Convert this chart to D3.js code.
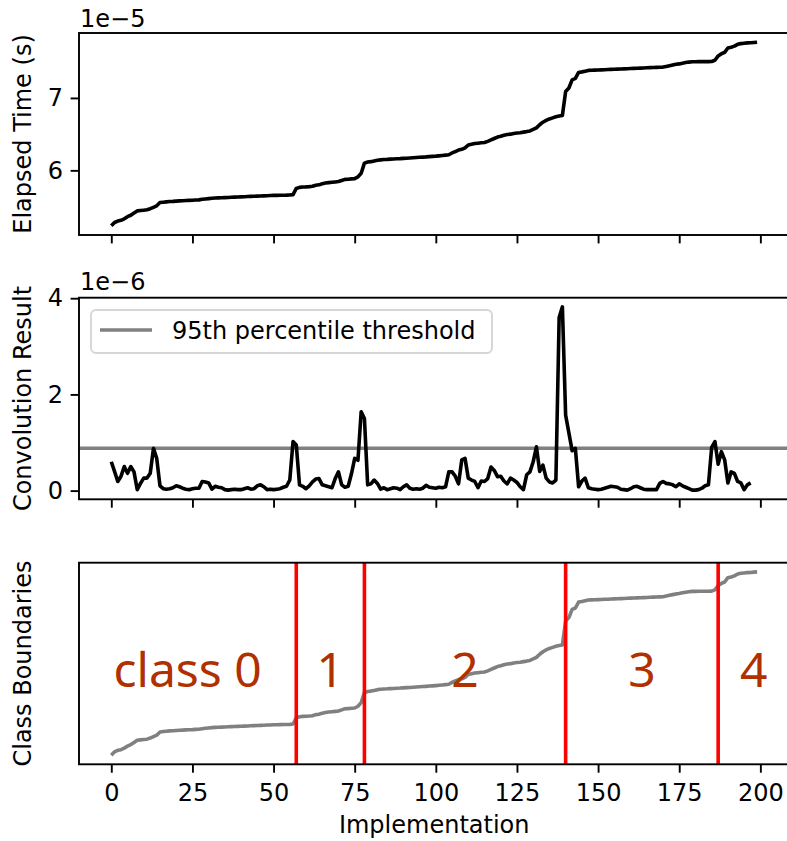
<!DOCTYPE html>
<html>
<head>
<meta charset="utf-8">
<script src="https://cdn.jsdelivr.net/npm/d3@7"></script>
<style>
  body { margin: 0; background: #fff; }
  svg { display: block; font-family: "DejaVu Sans", sans-serif; }
</style>
</head>
<body>
<div id="chart"></div>
<script>

// elapsed time per implementation, sorted (units of 1e-5 s)
const elapsed = [
  5.234, 5.28, 5.30, 5.31, 5.33, 5.36, 5.38, 5.41, 5.44, 5.445,
  5.45, 5.455, 5.47, 5.49, 5.51, 5.555, 5.56, 5.565, 5.57, 5.572,
  5.575, 5.578, 5.58, 5.583, 5.585, 5.587, 5.59, 5.592, 5.60, 5.605,
  5.61, 5.615, 5.618, 5.62, 5.622, 5.624, 5.626, 5.628, 5.63, 5.632,
  5.634, 5.636, 5.638, 5.64, 5.642, 5.644, 5.646, 5.648, 5.65, 5.652,
  5.654, 5.655, 5.656, 5.657, 5.658, 5.66, 5.665, 5.75, 5.765, 5.77,
  5.772, 5.775, 5.78, 5.795, 5.80, 5.815, 5.825, 5.83, 5.835, 5.84,
  5.845, 5.86, 5.875, 5.878, 5.882, 5.886, 5.91, 5.96, 6.10, 6.115,
  6.12, 6.13, 6.14, 6.145, 6.15, 6.152, 6.155, 6.157, 6.16, 6.162,
  6.165, 6.168, 6.171, 6.174, 6.177, 6.18, 6.183, 6.186, 6.19, 6.193,
  6.196, 6.20, 6.205, 6.21, 6.215, 6.24, 6.26, 6.28, 6.29, 6.31,
  6.35, 6.36, 6.37, 6.375, 6.38, 6.385, 6.40, 6.42, 6.44, 6.46,
  6.47, 6.485, 6.495, 6.50, 6.51, 6.515, 6.52, 6.528, 6.535, 6.545,
  6.565, 6.587, 6.63, 6.665, 6.69, 6.71, 6.725, 6.74, 6.75, 6.757,
  7.09, 7.137, 7.25, 7.27, 7.352, 7.36, 7.37, 7.38, 7.382, 7.384,
  7.386, 7.388, 7.39, 7.392, 7.394, 7.396, 7.398, 7.40, 7.402, 7.404,
  7.406, 7.408, 7.41, 7.412, 7.414, 7.416, 7.418, 7.42, 7.422, 7.424,
  7.426, 7.435, 7.445, 7.455, 7.465, 7.47, 7.48, 7.488, 7.495, 7.50,
  7.50, 7.501, 7.501, 7.502, 7.502, 7.503, 7.52, 7.58, 7.61, 7.63,
  7.69, 7.70, 7.715, 7.74, 7.75, 7.755, 7.76, 7.762, 7.766, 7.77
];

// convolution result (units of 1e-6)
const convolution = [
  0.60, 0.40, 0.19, 0.30, 0.50, 0.36, 0.50, 0.39, 0.02, 0.15,
  0.26, 0.26, 0.36, 0.88, 0.67, 0.10, 0.04, 0.03, 0.04, 0.06,
  0.10, 0.08, 0.05, 0.03, 0.02, 0.04, 0.05, 0.05, 0.19, 0.18,
  0.16, 0.03, 0.09, 0.07, 0.06, 0.02, 0.01, 0.02, 0.03, 0.02,
  0.02, 0.04, 0.06, 0.03, 0.04, 0.10, 0.12, 0.08, 0.02, 0.03,
  0.02, 0.03, 0.04, 0.07, 0.09, 0.22, 1.02, 0.95, 0.12, 0.09,
  0.04, 0.10, 0.18, 0.24, 0.25, 0.12, 0.10, 0.08, 0.06, 0.25,
  0.39, 0.12, 0.07, 0.09, 0.35, 0.67, 0.63, 1.64, 1.50, 0.12,
  0.14, 0.22, 0.15, 0.03, 0.06, 0.02, 0.04, 0.06, 0.05, 0.02,
  0.08, 0.12, 0.05, 0.03, 0.04, 0.03, 0.05, 0.11, 0.07, 0.06,
  0.05, 0.07, 0.06, 0.08, 0.39, 0.39, 0.30, 0.14, 0.64, 0.67,
  0.26, 0.22, 0.19, 0.06, 0.20, 0.19, 0.25, 0.49, 0.42, 0.29,
  0.30, 0.20, 0.14, 0.26, 0.22, 0.17, 0.08, 0.02, 0.33, 0.39,
  0.60, 0.91, 0.40, 0.53, 0.26, 0.18, 0.16, 0.22, 3.60, 3.82,
  1.57, 1.20, 0.83, 0.88, 0.08, 0.20, 0.26, 0.06, 0.04, 0.03,
  0.02, 0.03, 0.05, 0.07, 0.09, 0.08, 0.07, 0.03, 0.02, 0.01,
  0.04, 0.08, 0.09, 0.06, 0.03, 0.02, 0.02, 0.02, 0.02, 0.15,
  0.19, 0.15, 0.14, 0.12, 0.08, 0.14, 0.10, 0.07, 0.04, 0.01,
  0.01, 0.02, 0.05, 0.10, 0.12, 0.90, 1.02, 0.55, 0.81, 0.64,
  0.16, 0.39, 0.36, 0.19, 0.16, 0.02, 0.12, 0.16
];

const threshold = 0.88;
const boundaries = [57, 78, 140, 187];
const classLabels = ["class 0", "1", "2", "3", "4"];
const xTicks = [0, 25, 50, 75, 100, 125, 150, 175, 200];
const elapsedTicks = [6, 7];
const convTicks = [0, 2, 4];

const width = 787, height = 841;
const axLeft = 79, axRight = 789.4;
const panels = [
  {top: 33, bottom: 235},
  {top: 297.7, bottom: 499.3},
  {top: 562.7, bottom: 764.3}
];
const lw = 3.6, spineW = 1.9, tickLen = 8.4, fs = 24;

// matplotlib style 5% margins
function padded(ext) {
  const m = (ext[1] - ext[0]) * 0.05;
  return [ext[0] - m, ext[1] + m];
}

const svg = d3.select("#chart")
  .append("svg")
  .attr("width", width)
  .attr("height", height);

const n = elapsed.length;
const x = d3.scaleLinear()
  .domain(padded([0, n - 1]))
  .range([axLeft, axRight]);

const yTime = d3.scaleLinear().domain(padded(d3.extent(elapsed)))
  .range([panels[0].bottom, panels[0].top]);
const yConv = d3.scaleLinear().domain(padded(d3.extent(convolution)))
  .range([panels[1].bottom, panels[1].top]);
const yClass = d3.scaleLinear().domain(padded(d3.extent(elapsed)))
  .range([panels[2].bottom, panels[2].top]);

// clip each panel to its axes box
panels.forEach((p, i) => {
  svg.append("clipPath").attr("id", "clip" + i)
    .append("rect")
    .attr("x", axLeft).attr("y", p.top)
    .attr("width", axRight - axLeft).attr("height", p.bottom - p.top);
});

function styleAxis(g) {
  g.select(".domain").remove();
  g.selectAll("line").attr("stroke", "#000").attr("stroke-width", spineW);
  g.selectAll("text").attr("fill", "#000")
    .attr("font-family", "DejaVu Sans").attr("font-size", fs);
}

// x axes: ticks on all panels, labels only on bottom
panels.forEach((p, i) => {
  const ax = d3.axisBottom(x).tickValues(xTicks).tickSize(tickLen).tickPadding(11);
  if (i < 2) ax.tickFormat("");
  svg.append("g")
    .attr("transform", `translate(0,${p.bottom})`)
    .call(ax)
    .call(styleAxis);
});

svg.append("g")
  .attr("transform", `translate(${axLeft},0)`)
  .call(d3.axisLeft(yTime).tickValues(elapsedTicks).tickFormat(d3.format("d"))
    .tickSize(tickLen).tickPadding(7.6))
  .call(styleAxis);

svg.append("g")
  .attr("transform", `translate(${axLeft},0)`)
  .call(d3.axisLeft(yConv).tickValues(convTicks).tickFormat(d3.format("d"))
    .tickSize(tickLen).tickPadding(7.6))
  .call(styleAxis);

const line = (yScale) => d3.line().x((d, i) => x(i)).y(d => yScale(d));

// panel 1: elapsed time
svg.append("path")
  .datum(elapsed)
  .attr("clip-path", "url(#clip0)")
  .attr("fill", "none")
  .attr("stroke", "#000")
  .attr("stroke-width", lw)
  .attr("stroke-linejoin", "round")
  .attr("d", line(yTime));

// panel 2: threshold + convolution
svg.append("line")
  .attr("clip-path", "url(#clip1)")
  .attr("x1", axLeft).attr("x2", axRight)
  .attr("y1", yConv(threshold)).attr("y2", yConv(threshold))
  .attr("stroke", "#808080")
  .attr("stroke-width", lw);

svg.append("path")
  .datum(convolution)
  .attr("clip-path", "url(#clip1)")
  .attr("fill", "none")
  .attr("stroke", "#000")
  .attr("stroke-width", lw)
  .attr("stroke-linejoin", "round")
  .attr("d", line(yConv));

// legend
const legend = svg.append("g");
legend.append("rect")
  .attr("x", 91).attr("y", 310)
  .attr("width", 401).attr("height", 43)
  .attr("rx", 5)
  .attr("fill", "#fff").attr("fill-opacity", 0.8)
  .attr("stroke", "#d6d6d6").attr("stroke-width", spineW);
legend.append("line")
  .attr("x1", 100).attr("x2", 152)
  .attr("y1", 330).attr("y2", 330)
  .attr("stroke", "#808080").attr("stroke-width", lw);
legend.append("text")
  .attr("x", 172).attr("y", 339)
  .attr("font-size", fs)
  .text("95th percentile threshold");

// panel 3: class boundaries
svg.append("path")
  .datum(elapsed)
  .attr("clip-path", "url(#clip2)")
  .attr("fill", "none")
  .attr("stroke", "#808080")
  .attr("stroke-width", lw)
  .attr("stroke-linejoin", "round")
  .attr("d", line(yClass));

svg.selectAll(".boundary")
  .data(boundaries)
  .enter()
  .append("line")
    .attr("class", "boundary")
    .attr("x1", d => x(d)).attr("x2", d => x(d))
    .attr("y1", panels[2].top).attr("y2", panels[2].bottom)
    .attr("stroke", "#ff0000")
    .attr("stroke-width", lw);

// labels sit in the middle of each class region
const edges = [x.domain()[0]].concat(boundaries, [x.domain()[1]]);
svg.selectAll(".classLabel")
  .data(classLabels)
  .enter()
  .append("text")
    .attr("class", "classLabel")
    .attr("x", (d, i) => x((edges[i] + edges[i + 1]) / 2))
    .attr("y", 687)
    .attr("text-anchor", "middle")
    .attr("font-family", "Noto Sans")
    .attr("font-size", 48)
    .attr("fill", "#b03000")
    .text(d => d);

// spines
panels.forEach(p => {
  svg.append("rect")
    .attr("x", axLeft).attr("y", p.top)
    .attr("width", axRight - axLeft).attr("height", p.bottom - p.top)
    .attr("fill", "none")
    .attr("stroke", "#000")
    .attr("stroke-width", spineW);
});

// offset texts
svg.append("text").attr("x", 80).attr("y", 27).attr("font-size", fs).text("1e\u22125");
svg.append("text").attr("x", 80).attr("y", 290).attr("font-size", fs).text("1e\u22126");

// axis labels
const yLabels = ["Elapsed Time (s)", "Convolution Result", "Class Boundaries"];
panels.forEach((p, i) => {
  svg.append("text")
    .attr("transform", `translate(31,${(p.top + p.bottom) / 2}) rotate(-90)`)
    .attr("text-anchor", "middle")
    .attr("font-size", fs)
    .text(yLabels[i]);
});

svg.append("text")
  .attr("x", (axLeft + axRight) / 2)
  .attr("y", 833)
  .attr("text-anchor", "middle")
  .attr("font-size", fs)
  .text("Implementation");

</script>
</body>
</html>
